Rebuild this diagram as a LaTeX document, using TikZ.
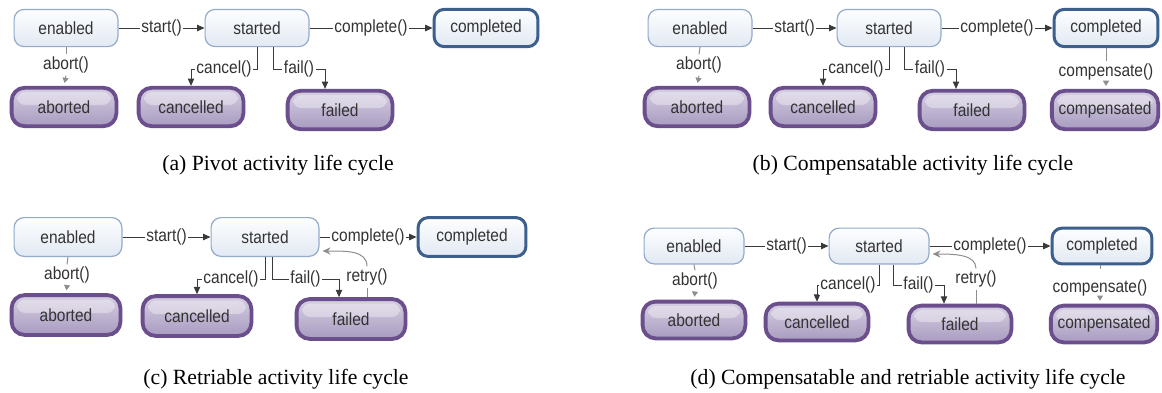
\documentclass[tikz,border=0pt]{standalone}
\usepackage{fontspec}
\setmainfont{Liberation Serif}
\newfontfamily\lsans[FakeStretch=0.88]{Liberation Sans}
\usetikzlibrary{arrows.meta,calc}

\definecolor{txt}{HTML}{333333}
\definecolor{lborder}{HTML}{93AACB}
\definecolor{ltop}{HTML}{FDFEFF}
\definecolor{lbot}{HTML}{E2E9F3}
\definecolor{cborder}{HTML}{3C5F8D}
\definecolor{pborder}{HTML}{6A4F8C}
\definecolor{ptop}{HTML}{D6CFE2}
\definecolor{pbot}{HTML}{A89BC0}
\definecolor{conn}{HTML}{3A3A3A}
\definecolor{soft}{HTML}{8E8E8E}

\tikzset{
  nfont/.style={font=\lsans\fontsize{8.8}{10}\selectfont, text=txt},
  lsize/.style={minimum width=51.9pt, minimum height=18.6pt},
  psize/.style={minimum width=52.4pt, minimum height=19.2pt},
  lightbox/.style={nfont, rectangle, rounded corners=5pt, draw=lborder, line width=0.6pt,
    top color=ltop, bottom color=lbot, lsize},
  donebox/.style={lightbox, draw=cborder, line width=1.5pt},
  purpbox/.style={nfont, rectangle, rounded corners=6.5pt, draw=pborder, line width=1.9pt,
    top color=ptop, bottom color=pbot, psize,
    path picture={\fill[white, opacity=0.35, rounded corners=4pt]
      ($(path picture bounding box.north west)+(2.8pt,-2.2pt)$) rectangle
      ($(path picture bounding box.east)+(-2.8pt,1pt)$);}},
  lbl/.style={nfont, fill=white, inner sep=0.8pt},
  softlbl/.style={nfont, inner sep=1pt},
  link/.style={draw=conn, line width=0.5pt, -{Triangle[length=3.7pt,width=3.2pt]}},
  softlink/.style={draw=soft, line width=0.5pt},
  softarrow/.style={draw=soft, line width=0.5pt, -{Triangle[length=2.6pt,width=3pt]}, shorten >=1.5pt},
  retrylink/.style={draw=soft, line width=0.5pt, -{Stealth[length=4pt,width=3.6pt]}},
  capt/.style={font=\fontsize{10.85}{13}\selectfont, text=black, inner sep=0pt}
}

\begin{document}
\begin{tikzpicture}[x=0.5pt, y=-0.5pt]
\useasboundingbox (0,0) rectangle (1162,392);
\fill[white] (0,0) rectangle (1162,392);

% ---------------- (a) ----------------
\begin{scope}
\node[lightbox] (enA) at (66,28) {enabled};
\node[lightbox] (stA) at (257,28) {started};
\node[donebox] (coA) at (486,28) {completed};
\node[purpbox] (aoA) at (64,107) {aborted};
\node[purpbox] (caA) at (191,107) {cancelled};
\node[purpbox] (faA) at (340,110) {failed};
\draw[link] (enA) -- node[lbl]{start()} (stA);
\draw[link] (stA) -- node[lbl]{complete()} (coA);
\node[softlbl] (abA) at (66,65) {abort()};
\draw[softlink] (enA.south) -- (abA.north);
\draw[softarrow] (abA.south) -- (aoA.north);
\coordinate (jA) at (0,69);
\draw[link] (stA.south) -- (stA.south |- jA) -- node[lbl]{cancel()} (caA.north |- jA) -- (caA.north);
\coordinate (fsA) at ($(stA.south)+(16,0)$);
\coordinate (feA) at ($(faA.north)+(-15,0)$);
\draw[link] (fsA) -- (fsA |- jA) -- node[lbl]{fail()} (feA |- jA) -- (feA);
\node[capt] (capA) at (278,165) {(a) Pivot activity life cycle};
\end{scope}

% ---------------- (b) ----------------
\begin{scope}
\node[lightbox] (enB) at (700,28) {enabled};
\node[lightbox] (stB) at (889,28) {started};
\node[donebox] (coB) at (1106,28) {completed};
\node[purpbox] (aoB) at (697,107) {aborted};
\node[purpbox] (caB) at (823,107) {cancelled};
\node[purpbox] (faB) at (972,110) {failed};
\node[purpbox] (cpB) at (1105,110) {compensated};
\draw[link] (enB) -- node[lbl]{start()} (stB);
\draw[link] (stB) -- node[lbl]{complete()} (coB);
\node[softlbl] (abB) at (699,65) {abort()};
\draw[softlink] (enB.south) -- (abB.north);
\draw[softarrow] (abB.south) -- (aoB.north);
\node[softlbl] (cmB) at (1106,72) {compensate()};
\draw[softlink] (coB.south) -- (cmB.north);
\draw[softarrow] (cmB.south) -- (cpB.north -| cmB.south);
\coordinate (jB) at (0,69);
\draw[link] (stB.south) -- (stB.south |- jB) -- node[lbl]{cancel()} (caB.north |- jB) -- (caB.north);
\coordinate (fsB) at ($(stB.south)+(15,0)$);
\coordinate (feB) at ($(faB.north)+(-16,0)$);
\draw[link] (fsB) -- (fsB |- jB) -- node[lbl]{fail()} (feB |- jB) -- (feB);
\node[capt] (capB) at (913,165) {(b) Compensatable activity life cycle};
\end{scope}

% ---------------- (c) ----------------
\begin{scope}[lsize/.style={minimum width=53.9pt, minimum height=19.4pt},
              psize/.style={minimum width=54.4pt, minimum height=19.9pt}]
\node[lightbox] (enC) at (68,237) {enabled};
\node[lightbox] (stC) at (265,237) {started};
\node[donebox] (coC) at (472,237) {completed};
\node[purpbox] (aoC) at (66,315) {aborted};
\node[purpbox] (caC) at (197,316) {cancelled};
\node[purpbox] (faC) at (351,319) {failed};
\draw[link] (enC) -- node[lbl]{start()} (stC);
\draw[link] (stC) -- node[lbl]{complete()} (coC);
\node[softlbl] (abC) at (67,275) {abort()};
\draw[softlink] (enC.south) -- (abC.north);
\draw[softarrow] (abC.south) -- (aoC.north);
\coordinate (jC) at (0,279);
\draw[link] (stC.south) -- (stC.south |- jC) -- node[lbl]{cancel()} (caC.north |- jC) -- (caC.north);
\coordinate (fsC) at ($(stC.south)+(7,0)$);
\coordinate (feC) at ($(faC.north)+(-12,0)$);
\draw[link] (fsC) -- (fsC |- jC) -- node[lbl]{fail()} (feC |- jC) -- (feC);
\node[softlbl] (reC) at (367,277) {retry()};
\draw[softlink] (reC.south |- faC.north) -- (reC.south);
\coordinate (rtC) at ($(stC.east)+(3,14)$);
\draw[retrylink] (reC.north) .. controls ($(reC.north)+(0,-16)$) and ($(rtC)+(24,0)$) .. (rtC);
\node[capt] (capC) at (276,379) {(c) Retriable activity life cycle};
\end{scope}

% ---------------- (d) ----------------
\begin{scope}[lsize/.style={minimum width=49.9pt, minimum height=17.9pt},
              psize/.style={minimum width=51.4pt, minimum height=18.4pt}]
\node[lightbox] (enD) at (694,246) {enabled};
\node[lightbox] (stD) at (879,246) {started};
\node[donebox] (coD) at (1102,246) {completed};
\node[purpbox] (aoD) at (694,320) {aborted};
\node[purpbox] (caD) at (817,322) {cancelled};
\node[purpbox] (faD) at (960,324) {failed};
\node[purpbox] (cpD) at (1104,324) {compensated};
\draw[link] (enD) -- node[lbl]{start()} (stD);
\draw[link] (stD) -- node[lbl]{complete()} (coD);
\node[softlbl] (abD) at (695,281) {abort()};
\draw[softlink] (enD.south) -- (abD.north);
\draw[softarrow] (abD.south) -- (aoD.north);
\node[softlbl] (cmD) at (1100,288) {compensate()};
\draw[softlink] (coD.south -| cmD.north) -- ($(cmD.north)+(0,-8)$);
\draw[softarrow] (cmD.south) -- (cpD.north -| cmD.south);
\coordinate (jD) at (0,285);
\draw[link] (stD.south) -- (stD.south |- jD) -- node[lbl]{cancel()} (caD.north |- jD) -- (caD.north);
\coordinate (fsD) at ($(stD.south)+(14,0)$);
\coordinate (feD) at ($(faD.north)+(-16,0)$);
\draw[link] (fsD) -- (fsD |- jD) -- node[lbl]{fail()} (feD |- jD) -- (feD);
\node[softlbl] (reD) at (976,279) {retry()};
\draw[softlink] (reD.south |- faD.north) -- (reD.south);
\coordinate (rtD) at ($(stD.east)+(3,8)$);
\draw[retrylink] (reD.north) .. controls ($(reD.north)+(0,-14)$) and ($(rtD)+(22,0)$) .. (rtD);
\node[capt] (capD) at (908,379) {(d) Compensatable and retriable activity life cycle};
\end{scope}
\end{tikzpicture}
\end{document}
